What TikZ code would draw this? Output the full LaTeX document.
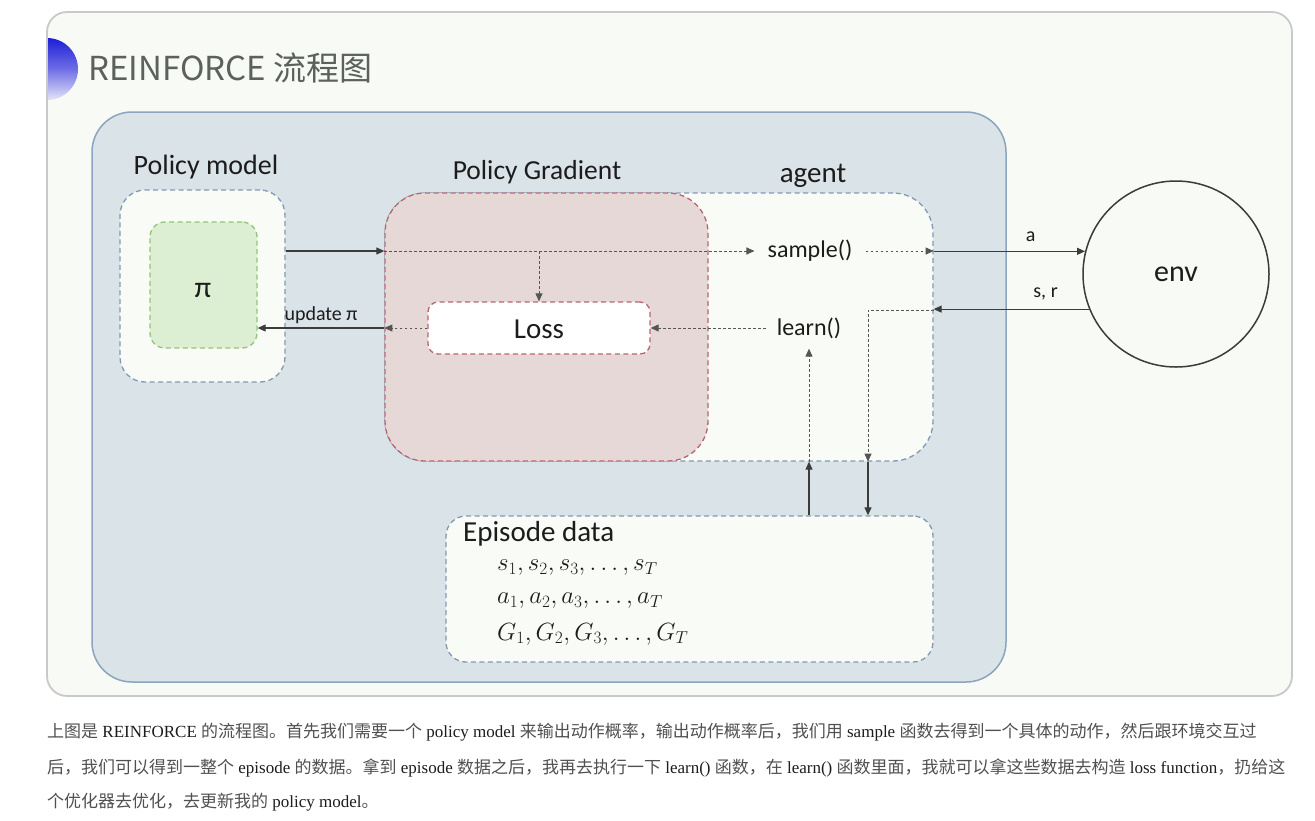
\documentclass[tikz,border=0pt]{standalone}
\usepackage{fontspec}
\setmainfont{Carlito}
\newfontfamily\cjk{Noto Sans CJK SC}
\newfontfamily\capserif{Liberation Serif}
\usetikzlibrary{arrows.meta,calc}
\definecolor{framegray}{RGB}{200,202,200}
\definecolor{framefill}{RGB}{247,250,245}
\definecolor{grpfill}{RGB}{218,227,232}
\definecolor{grpline}{RGB}{140,164,190}
\definecolor{dashblue}{RGB}{132,152,178}
\definecolor{whitefill}{RGB}{248,251,246}
\definecolor{pinkfill}{RGB}{231,216,216}
\definecolor{dashred}{RGB}{184,100,112}
\definecolor{greenfill}{RGB}{221,239,211}
\definecolor{dashgreen}{RGB}{148,196,122}
\definecolor{linegray}{RGB}{60,60,60}
\definecolor{dotgray}{RGB}{85,85,85}
\definecolor{txt}{RGB}{28,28,28}
\definecolor{titlegray}{RGB}{92,97,92}
\definecolor{zhgray}{RGB}{80,80,80}
\newcommand{\zh}[1]{{\cjk\color{zhgray}#1}}
\newcommand{\fs}[1]{\fontsize{#1}{#1}\selectfont}
\begin{document}
\begin{tikzpicture}[x=1pt,y=-1pt,
  every node/.style={text=txt, inner sep=0pt},
  dbox/.style={draw=dashblue, line width=1.3pt, dash pattern=on 5pt off 3.5pt, fill=whitefill},
  rbox/.style={draw=dashred, line width=1.3pt, dash pattern=on 5pt off 3.5pt},
  gbox/.style={draw=dashgreen, line width=1.3pt, dash pattern=on 5pt off 3.5pt, fill=greenfill},
  arr/.style={-{Triangle[length=8pt,width=7pt]}, line width=1.1pt, draw=linegray},
  dotarr/.style={arr, draw=dotgray, line width=1pt, dash pattern=on 2.5pt off 2.5pt},
  lbl/.style={font=\fs{28}},
  fn/.style={font=\fs{24}, inner ysep=5pt, inner xsep=13pt},
  captxt/.style={anchor=base west, font=\capserif\fs{17}}
]
\useasboundingbox (0,0) rectangle (1315,820);
\fill[white] (0,0) rectangle (1315,820);

% outer frame
\node[draw=framegray, line width=1.8pt, fill=framefill, rounded corners=20pt,
      minimum width=1245pt, minimum height=684pt] (frame) at (669.5,354) {};
% blue half disc
\begin{scope}
  \clip (48,30) rectangle (100,110);
  \shade[top color={rgb,255:red,30;green,30;blue,215}, bottom color={rgb,255:red,228;green,228;blue,248},
         middle color={rgb,255:red,110;green,110;blue,230}] (47,69) circle (31);
\end{scope}
\node[anchor=west, text=titlegray, font=\cjk\fs{33}] (title) at (88,68) {REINFORCE 流程图};

% agent group
\node[draw=grpline, line width=1.5pt, fill=grpfill, rounded corners=40pt,
      minimum width=914pt, minimum height=570pt] (grp) at (549,397) {};

% labels
\node[lbl] (pmlbl) at (206,167) {Policy model};
\node[lbl, font=\fs{27.5}] (pglbl) at (537,172) {Policy Gradient};
\node[lbl, font=\fs{29}] (aglbl) at (813,176) {agent};

% policy model box
\node[dbox, rounded corners=25pt, minimum width=165pt, minimum height=192pt] (pmbox) at (202.5,286) {};
\node[gbox, rounded corners=15pt, minimum width=107pt, minimum height=126pt] (pibox) at (203.5,285) {};
\node[font=\fs{30}] (pi) at (203,290) {π};

% agent and policy gradient boxes
\node[dbox, rounded corners=40pt, minimum width=548pt, minimum height=268pt] (agbox) at (659,327) {};
\node[rbox, fill=pinkfill, rounded corners=40pt, minimum width=323pt, minimum height=268pt] (pgbox) at (546.5,327) {};
\node[rbox, fill=white, rounded corners=10pt, minimum width=222pt, minimum height=52pt] (loss) at (539,328) {};
\node[font=\fs{29}] (losstxt) at (539,329) {Loss};

\node[fn] (sample) at (810,251) {sample()};
\node[fn, inner ysep=10pt, inner xsep=11pt] (learn) at (809,328) {learn()};

% env
\node[draw=linegray, line width=1.5pt, circle, minimum size=186pt, font=\fs{30}] (env) at (1176,274) {env};

% episode data
\node[dbox, rounded corners=20pt, minimum width=487pt, minimum height=146pt] (ep) at (689.5,589) {};
\node[anchor=west, font=\fs{29}] (eptxt) at (463,534) {Episode data};
\node[anchor=west, font=\fs{24}] (m1) at (497,568) {$s_1, s_2, s_3,\ldots , s_T$};
\node[anchor=west, font=\fs{24}] (m2) at (497,601) {$a_1, a_2, a_3,\ldots , a_T$};
\node[anchor=west, font=\fs{24}] (m3) at (497,634) {$G_1, G_2, G_3,\ldots , G_T$};

% connectors
\coordinate (dn) at (868,310);
\draw[arr] (pmbox.east |- sample) -- (pgbox.west |- sample);
\draw[dotarr] (pgbox.west |- sample) -- (sample.west);
\draw[dotarr] (sample.east) -- (agbox.east |- sample);
\draw[arr] (agbox.east |- env.166) -- (env.166) node[pos=0.64, above=9pt, font=\fs{20}] (alab) {a};
\draw[arr] (env.202) -- (agbox.east |- env.202) node[pos=0.28, above=9pt, font=\fs{20}] (srlab) {s, r};
\draw[dotarr] (agbox.east |- dn) -- (dn) -- (dn |- agbox.south);
\draw[arr] (dn |- agbox.south) -- (dn |- ep.north);
\draw[arr] (learn.south |- ep.north) -- (learn.south |- agbox.south);
\draw[dotarr] (learn.south |- agbox.south) -- (learn.south);
\draw[dotarr] (learn.west) -- (loss.east);
\draw[dotarr] (loss.north |- sample) -- (loss.north);
\draw[dotarr] (loss.west) -- (pgbox.west |- loss);
\draw[arr] (pgbox.west |- loss) -- (pibox.east |- loss) node[midway, above=4pt, font=\fs{20}] (uplab) {update π};

% caption
\node[captxt] (c1) at (47,737) {\zh{上图是} REINFORCE \zh{的流程图。首先我们需要一个} policy model \zh{来输出动作概率，输出动作概率后，我们用} sample \zh{函数去得到一个具体的动作，然后跟环境交互过}};
\node[captxt] (c2) at (47,773) {\zh{后，我们可以得到一整个} episode \zh{的数据。拿到} episode \zh{数据之后，我再去执行一下} learn() \zh{函数，在} learn() \zh{函数里面，我就可以拿这些数据去构造} loss function\zh{，扔给这}};
\node[captxt] (c3) at (47,807) {\zh{个优化器去优化，去更新我的} policy model\zh{。}};
\end{tikzpicture}
\end{document}
